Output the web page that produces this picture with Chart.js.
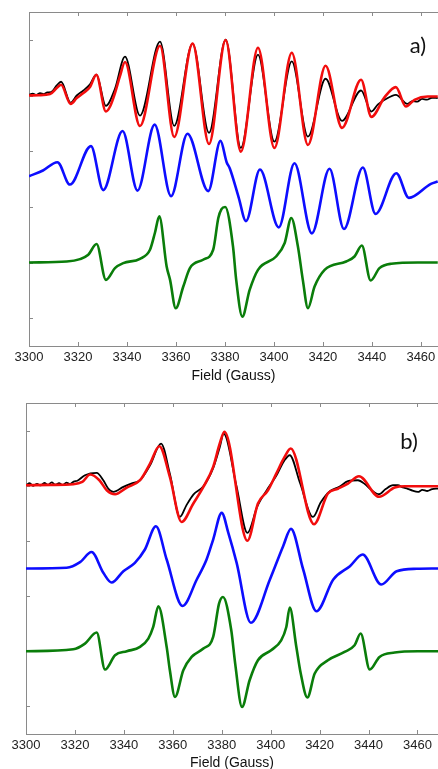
<!DOCTYPE html>
<html><head><meta charset="utf-8">
<script src="https://cdn.jsdelivr.net/npm/chart.js@4"></script>
<style>
html,body{margin:0;padding:0;background:#fff;overflow:hidden;width:438px;height:769px;}
#wa{position:absolute;left:0;top:0;width:438px;height:390px;}
#wb{position:absolute;left:0;top:390px;width:438px;height:385px;}
</style></head><body>
<div id="wa"><canvas id="ca" width="438" height="390"></canvas></div>
<div id="wb"><canvas id="cb" width="438" height="385"></canvas></div>
<script>
// ---------- Panel a) ----------
const aFitX = [3300,3304,3308.6,3311.3,3313.1,3317.0,3319.5,3322.2,3324.9,3327.5,3331.4,3333.1,3335.1,3337.1,3339.2,3345.3,3353.5,3359.3,3366.8,3373.5,3380.3,3386.5,3393.5,3400.2,3407.3,3413.9,3421.1,3427.8,3435.6,3439.8,3445.2,3449.8,3453.9,3457.4,3462.8,3466.9];
const aFitY = [0,0.05,0.25,1.33,1.93,-1.5,-0.47,0.43,1.51,3.73,-2.88,-1.98,0.43,3.42,6.02,-5.48,8.95,-7.45,9.32,-8.70,9.95,-10.09,8.59,-9.42,7.69,-8.88,5.35,-5.82,2.83,-3.84,-0.3,1.51,-1.98,-0.77,-0.18,-0.18];

const aExpX = [3300,3301.5,3303,3304.5,3306,3307.5,3309,3311.3,3313.1,3317.0,3319.5,3322.2,3324.9,3327.5,3331.4,3335.1,3339.2,3345.3,3353.5,3359.3,3366.8,3373.5,3380.3,3386.5,3393.5,3400.2,3407.3,3413.9,3421.1,3427.8,3435.6,3439.8,3442.5,3445.2,3449.8,3454.5,3456.5,3458.5,3460.5,3462.5,3464.5,3466.9];
const aExpY = [0.1,0.35,0.1,0.4,0.25,0.55,0.6,1.8,2.47,-1.3,0,0.9,2.0,3.73,-1.86,1.2,6.97,-3.6,9.68,-5.46,9.32,-6.72,10.04,-9.42,7.33,-8.29,6.13,-7.39,3.01,-4.56,0.9,-2.88,-1.6,-0.77,0.13,-1.5,-1.0,-1.1,-0.6,-0.75,-0.4,-0.47];

const aSim1X = [3300,3305.7,3311.6,3316.7,3325.3,3330.3,3338.2,3344.3,3351.3,3358.0,3364.7,3373.2,3378.2,3380.7,3382.0,3385.6,3388.6,3394.3,3402.0,3408.4,3415.5,3422.7,3428.6,3436.3,3441.5,3450.0,3455.1,3464.1,3466.9];
const aSim1Y = [0,1.03,2.52,-1.50,5.41,-2.49,8.11,-2.58,9.26,-3.57,7.64,-2.67,6.34,2.52,1.39,-3.78,-8.07,1.21,-9.19,2.34,-10.27,1.33,-9.48,1.57,-6.77,0.54,-3.89,-1.37,-0.95];

const aSim2X = [3300,3315.4,3320.8,3324.2,3327.6,3331.4,3335.1,3338.5,3345.3,3349.4,3351.4,3353.2,3356.2,3357.6,3359.9,3363.0,3365.7,3371.1,3375.2,3377.3,3378.6,3380.1,3383.3,3384.6,3387.1,3390.1,3393.5,3400.9,3404.4,3407.1,3409.8,3411.8,3413.9,3416.6,3420.7,3429.5,3432.9,3435.9,3439.5,3443.1,3447.9,3458.8,3466.9];
const aSim2Y = [0,0.18,0.61,1.39,3.32,-3.12,-1.01,-0.11,0.67,2.29,5.3,8.29,-0.72,-3.12,-8.22,-4.32,-1.01,0.49,2.29,8.0,9.6,9.98,2.88,-3.12,-9.73,-4.92,-1.32,1.08,3.5,8.0,2.88,-3.12,-8.22,-4.32,-1.32,0.18,1.08,3.06,-3.24,-1.01,-0.23,0,0];

// ---------- Panel b) ----------
const bFitX = [3300,3310,3319.3,3323,3326.2,3330,3333,3336.4,3341.2,3346.6,3350.7,3354.5,3358.8,3363.6,3368.4,3372.5,3376.5,3379.2,3381.1,3390.5,3394.8,3398.9,3402.3,3405.7,3408.2,3417.7,3423.4,3427.5,3431.6,3436.1,3444.3,3450.7,3454.8,3468.4];
const bFitY = [0.09,0.15,0.27,0.69,2.03,1.0,-0.82,-1.54,-0.33,1.0,4.02,7.16,1.59,-6.56,-3.22,-0.22,3.42,7.66,9.8,-9.96,-3.22,-0.82,2.21,5.22,6.74,-6.97,-1.41,-0.54,0.4,1.72,-1.99,-0.33,-0.09,-0.09];

const bExpX = [3300,3301.5,3303,3304.5,3306,3307.5,3309,3310.5,3312,3313.5,3315,3316.5,3318,3319.5,3321,3324.1,3328.9,3331.6,3333.6,3335.7,3339.8,3343,3346.6,3350.7,3355.2,3358.8,3362.9,3365.5,3368.4,3372.5,3376.5,3379.2,3380.8,3386,3390.5,3394.5,3398.9,3402.3,3405.5,3407.8,3412,3417.3,3420.5,3424.2,3428,3431.6,3435.7,3438.5,3441,3444.3,3447,3450,3452,3454,3456,3458,3460.2,3462,3464,3466,3468.4];
const bExpY = [0.1,0.45,0,0.35,0.05,0.5,0.15,0.6,0.2,0.45,0.1,0.55,0.3,0.75,0.9,1.9,2.32,1.0,-0.5,-1.12,-0.2,0.4,1.0,3.7,7.64,2.2,-5.65,-3.6,-1.6,-0.09,3.2,7.0,9.46,0,-8.55,-3.8,-0.45,1.8,4.5,5.53,0.5,-5.65,-3.0,-1.0,-0.2,0.82,1.0,0.3,-0.7,-1.54,-0.6,0.1,0.09,-0.3,-0.55,-0.9,-1.12,-0.75,-0.95,-0.6,-0.51];

const bSim1X = [3300,3316.6,3322.1,3326.8,3331.6,3335.0,3339.8,3344.5,3348.6,3353.1,3357.5,3364.0,3369.8,3373.8,3376.5,3380.0,3382.7,3386.1,3391.9,3399.7,3405.1,3408.3,3413.3,3418.7,3425.6,3432.4,3437.6,3445.2,3451.5,3459.7,3468.4];
const bSim1Y = [0,0.13,1.14,2.99,-0.78,-2.54,-0.49,1.03,3.44,7.66,1.63,-6.79,-1.99,1.63,5.25,10.09,6.47,1.03,-9.84,-1.99,4.04,7.19,-0.18,-7.74,-1.99,0.42,2.54,-2.90,-0.49,-0.05,0];

const bSim2X = [3300,3319.3,3324.1,3328.9,3332.3,3336.4,3341.2,3346.6,3350.0,3352.0,3354.1,3357.5,3358.8,3360.9,3364.3,3367.7,3372.5,3376.5,3378.9,3380.5,3383.9,3385.5,3388.3,3391.4,3394.8,3400.2,3404.3,3406.4,3407.8,3410.5,3412.3,3415.0,3418.0,3423.4,3430.2,3434.3,3436.8,3440.5,3444.5,3450.7,3460.2,3468.4];
const bSim2Y = [0,0.36,1.39,3.39,-3.32,-0.72,0,0.78,2.3,4.4,8.15,0.78,-3.44,-8.28,-3.44,-1.03,0.49,2.59,8.64,9.84,3.8,-2.23,-10.09,-5.25,-1.63,0.18,1.99,4.4,7.92,0.78,-4.04,-8.39,-4.04,-1.63,-0.13,1.09,3.21,-3.32,-1.03,-0.24,0,0];

// stacking offsets of the traces (arbitrary intensity units)
const aOffsets = {fit: 40, exp: 40, sim1: 25.5, sim2: 10};
const bOffsets = {fit: 40, exp: 40, sim1: 25, sim2: 10};

const xTickLabels = [3300,3320,3340,3360,3380,3400,3420,3440,3460];
const axisTitle = 'Field (Gauss)';

const AXIS = '#8a8a8a';
const FONT = "'Liberation Sans', Arial, sans-serif";

function pts(xs, ys, off) { return xs.map((x, i) => ({x: x, y: ys[i] + off})); }

const innerTicks = {
  id: 'innerTicks',
  beforeDatasetsDraw(chart) {
    const {ctx, chartArea: a, scales} = chart;
    const L = 4;
    ctx.save();
    ctx.strokeStyle = AXIS; ctx.lineWidth = 1;
    ctx.beginPath();
    scales.x.ticks.forEach(t => {
      const px = Math.round(scales.x.getPixelForValue(t.value)) + 0.5;
      ctx.moveTo(px, a.bottom); ctx.lineTo(px, a.bottom - L);
      ctx.moveTo(px, a.top); ctx.lineTo(px, a.top + L);
    });
    scales.y.ticks.forEach(t => {
      const py = Math.round(scales.y.getPixelForValue(t.value)) + 0.5;
      ctx.moveTo(a.left, py); ctx.lineTo(a.left + L, py);
    });
    ctx.stroke();
    ctx.restore();
  }
};

const panelLabel = {
  id: 'panelLabel',
  afterDraw(chart, args, opts) {
    const {ctx, chartArea: a} = chart;
    ctx.save();
    ctx.fillStyle = '#111';
    ctx.font = "22px Lato, 'Open Sans', sans-serif";
    ctx.textAlign = 'center';
    ctx.textBaseline = 'middle';
    ctx.fillText(opts.text, a.right + opts.dx, a.top + opts.dy);
    ctx.restore();
  }
};

function makeChart(id, cfg) {
  const lineDs = (label, data, color, w, order) => ({
    label, data, borderColor: color, borderWidth: w, pointRadius: 0,
    fill: false, cubicInterpolationMode: 'monotone', order
  });
  return new Chart(document.getElementById(id), {
    type: 'line',
    data: {
      datasets: [
        lineDs('fit', pts(cfg.fitX, cfg.fitY, cfg.off.fit), '#f20d0d', 2.6, 0),
        lineDs('experiment', pts(cfg.expX, cfg.expY, cfg.off.exp), '#000000', 1.8, 1),
        lineDs('simulation 1', pts(cfg.s1X, cfg.s1Y, cfg.off.sim1), '#0d0dff', 2.6, 2),
        lineDs('simulation 2', pts(cfg.s2X, cfg.s2Y, cfg.off.sim2), '#0a7d0a', 2.6, 3)
      ]
    },
    options: {
      responsive: false, animation: false, devicePixelRatio: 1,
      layout: {padding: {left: cfg.padLeft, top: cfg.padTop, right: 0, bottom: 0}},
      plugins: {
        legend: {display: false}, tooltip: {enabled: false},
        panelLabel: {text: cfg.label, dx: cfg.labelDx, dy: cfg.labelDy}
      },
      scales: {
        x: {
          type: 'linear', position: 'bottom', min: 3300, max: cfg.xMax,
          afterBuildTicks: s => { s.ticks = xTickLabels.map(v => ({value: v})); },
          afterFit: s => { s.height = cfg.axisH; s.paddingLeft = 0; s.paddingRight = 0; },
          grid: {display: false, drawTicks: false},
          border: {display: true, color: AXIS, width: 1},
          ticks: {autoSkip: false, maxRotation: 0, minRotation: 0, padding: 4, color: '#222',
                  font: {family: FONT, size: 13}, callback: v => String(v)},
          title: {display: true, text: axisTitle, color: '#111', font: {family: FONT, size: 14},
                  padding: {top: 0, bottom: cfg.titlePad}}
        },
        x2: {
          type: 'linear', position: 'top', min: 3300, max: cfg.xMax,
          afterFit: s => { s.height = 0; s.paddingLeft = 0; s.paddingRight = 0; },
          grid: {display: false, drawTicks: false},
          border: {display: true, color: AXIS, width: 1},
          ticks: {display: false}
        },
        y: {
          min: -5, max: 55,
          afterBuildTicks: s => { s.ticks = [0, 10, 20, 30, 40, 50].map(v => ({value: v})); },
          afterFit: s => { s.width = 0; },
          grid: {display: false, drawTicks: false},
          border: {display: true, color: AXIS, width: 1},
          ticks: {display: false}
        }
      }
    },
    plugins: [innerTicks, panelLabel]
  });
}

makeChart('ca', {
  fitX: aFitX, fitY: aFitY, expX: aExpX, expY: aExpY,
  s1X: aSim1X, s1Y: aSim1Y, s2X: aSim2X, s2Y: aSim2Y, off: aOffsets,
  padLeft: 29, padTop: 12, axisH: 44, xMax: 3467, titlePad: 5.6,
  label: 'a)', labelDx: -20, labelDy: 34
});
makeChart('cb', {
  fitX: bFitX, fitY: bFitY, expX: bExpX, expY: bExpY,
  s1X: bSim1X, s1Y: bSim1Y, s2X: bSim2X, s2Y: bSim2Y, off: bOffsets,
  padLeft: 26, padTop: 13, axisH: 41, xMax: 3468.4, titlePad: 3.6,
  label: 'b)', labelDx: -29, labelDy: 39
});
</script></body></html>
